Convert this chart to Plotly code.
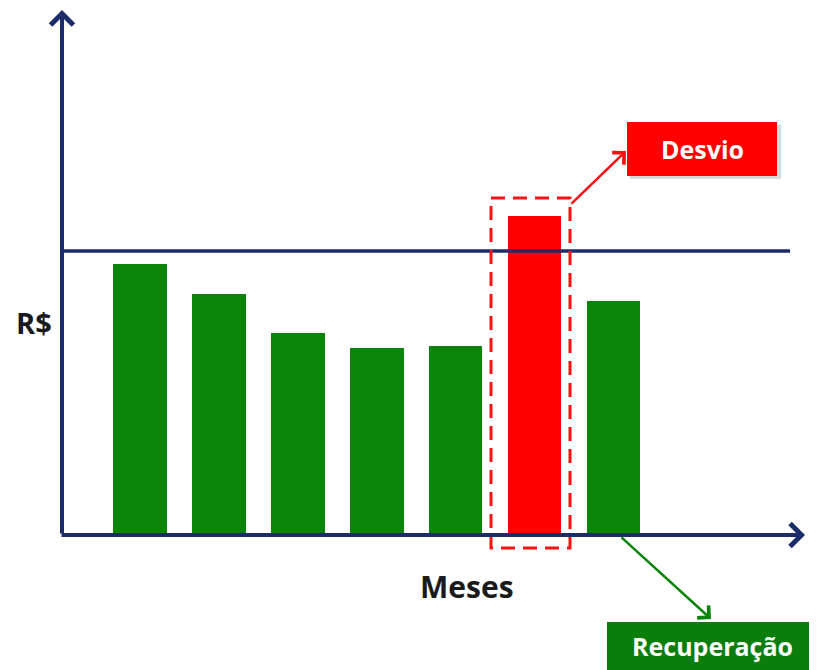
import plotly.graph_objects as go

# ---- data ----
months = [1, 2, 3, 4, 5, 6, 7]
values = [271, 241, 202, 187, 189, 319, 234]
bar_colors = ["#0a850a"] * 5 + ["#ff0000"] + ["#0a850a"]
limit_value = 284
y_label = "R$"
x_label = "Meses"
deviation_label = "Desvio"
recovery_label = "Recuperação"

OFF = 8                   # page body margin
W, H = 817 - OFF, 670 - OFF
SX = 78.9                 # px per month
X0 = 1 - (140 - OFF) / SX
X1 = X0 + W / SX
Y_TOP = 535 - OFF
Y_BOT = Y_TOP - H


def dx(p):
    return X0 + (p - OFF) / SX


def dy(p):
    return Y_TOP - (p - OFF)


NAVY = "#1b2c6b"
RED = "#ff1010"
GREEN = "#0a850a"

fig = go.Figure()
fig.add_trace(go.Bar(
    x=months, y=values, width=0.68,
    marker=dict(color=bar_colors, line=dict(width=0)),
    hoverinfo="skip", showlegend=False,
))

shapes = [
    dict(type="line", xref="x", yref="y", x0=dx(62), x1=dx(790),
         y0=limit_value, y1=limit_value, line=dict(color=NAVY, width=3.5)),
    dict(type="rect", xref="x", yref="y", x0=dx(491), x1=dx(570),
         y0=dy(198), y1=dy(548),
         line=dict(color=RED, width=3, dash="14px,8px")),
    dict(type="rect", xref="x", yref="y", x0=dx(630), x1=dx(781),
         y0=dy(125), y1=dy(179), fillcolor="rgba(0,0,0,0.15)",
         line=dict(width=0)),
    dict(type="rect", xref="x", yref="y", x0=dx(627), x1=dx(777),
         y0=dy(122), y1=dy(176), fillcolor="#ff0000", line=dict(width=0)),
    dict(type="rect", xref="x", yref="y", x0=dx(607), x1=dx(817),
         y0=dy(622), y1=dy(672), fillcolor="#0a7d0a", line=dict(width=0)),
]

annotations = [
    dict(x=dx(62), y=dy(10), ax=dx(62), ay=0, xref="x", yref="y",
         axref="x", ayref="y", showarrow=True, arrowhead=4, arrowsize=1.1,
         arrowwidth=4, arrowcolor=NAVY, text=""),
    dict(x=dx(805), y=0, ax=dx(60), ay=0, xref="x", yref="y",
         axref="x", ayref="y", showarrow=True, arrowhead=4, arrowsize=1.1,
         arrowwidth=4, arrowcolor=NAVY, text=""),
    dict(x=dx(626), y=dy(151), ax=dx(570), ay=dy(205), xref="x", yref="y",
         axref="x", ayref="y", showarrow=True, arrowhead=4, arrowsize=1.3,
         arrowwidth=2.5, arrowcolor=RED, text=""),
    dict(x=dx(711), y=dy(619), ax=dx(620), ay=dy(536), xref="x", yref="y",
         axref="x", ayref="y", showarrow=True, arrowhead=4, arrowsize=1.3,
         arrowwidth=2.5, arrowcolor=GREEN, text=""),
    dict(x=dx(34), y=dy(322), xref="x", yref="y", showarrow=False,
         text="<b>" + y_label + "</b>",
         font=dict(family="Open Sans", size=29, color="#1a1a1a")),
    dict(x=dx(467), y=dy(586), xref="x", yref="y", showarrow=False,
         text="<b>" + x_label + "</b>",
         font=dict(family="Open Sans", size=30, color="#1a1a1a")),
    dict(x=dx(702), y=dy(149), xref="x", yref="y", showarrow=False,
         text="<b>" + deviation_label + "</b>",
         font=dict(family="Open Sans", size=25, color="white")),
    dict(x=dx(712), y=dy(646), xref="x", yref="y", showarrow=False,
         text="<b>" + recovery_label + "</b>",
         font=dict(family="Open Sans", size=25, color="white")),
]

fig.update_layout(
    width=W, height=H,
    margin=dict(l=0, r=0, t=0, b=0, pad=0),
    paper_bgcolor="white", plot_bgcolor="white",
    xaxis=dict(range=[X0, X1], visible=False, fixedrange=True),
    yaxis=dict(range=[Y_BOT, Y_TOP], visible=False, fixedrange=True),
    shapes=shapes, annotations=annotations,
    bargap=0,
)

fig.write_html("out.html")
